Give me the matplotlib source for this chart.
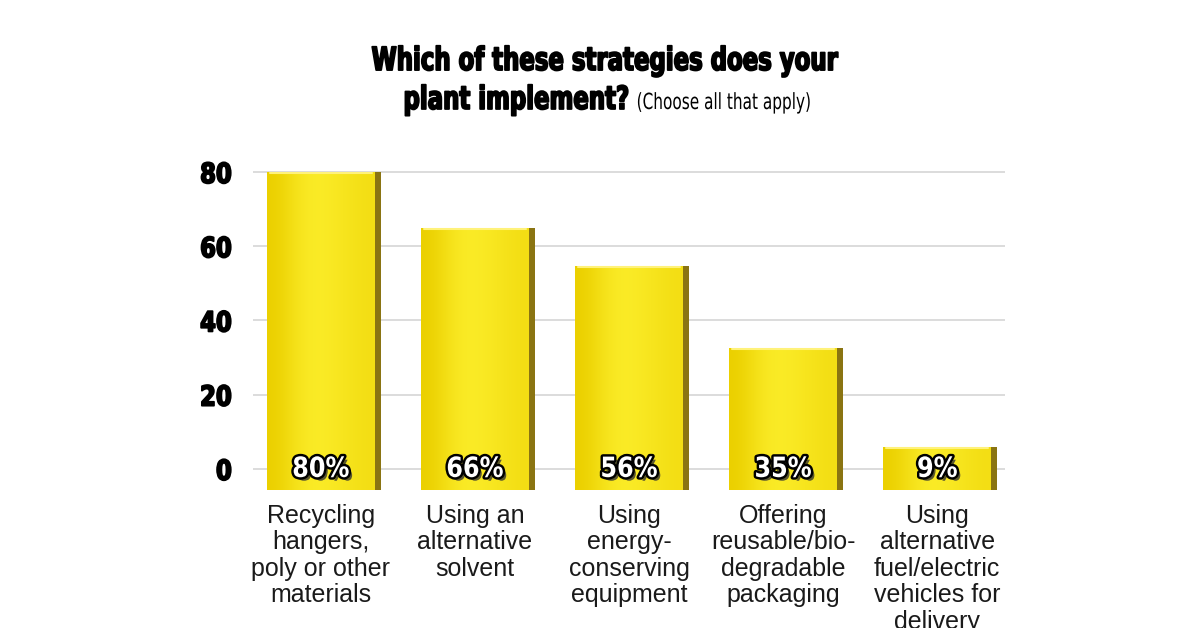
import matplotlib
matplotlib.use("Agg")
import matplotlib.pyplot as plt
import matplotlib.patheffects as pe
from matplotlib.transforms import Affine2D
from matplotlib.colors import LinearSegmentedColormap
import numpy as np

categories = [
    "Recycling\nhangers,\npoly or other\nmaterials",
    "Using an\nalternative\nsolvent",
    "Using\nenergy-\nconserving\nequipment",
    "Offering\nreusable/bio-\ndegradable\npackaging",
    "Using\nalternative\nfuel/electric\nvehicles for\ndelivery",
]
values = [80, 66, 56, 35, 9]
bar_tops = [80, 65, 54.7, 32.6, 5.9]
pct_labels = ["80%", "66%", "56%", "35%", "9%"]
yticks = [0, 20, 40, 60, 80]


class Squeeze(pe.AbstractPathEffect):
    """Horizontally condense text glyphs (emulates a condensed typeface)."""
    def __init__(self, sx, align="center", inner=None):
        super().__init__()
        self.sx = sx
        self.align = align
        self.inner = inner or [pe.Normal()]

    def draw_path(self, renderer, gc, tpath, affine, rgbFace=None):
        ext = tpath.get_extents()
        cx = {"center": (ext.x0 + ext.x1) / 2, "right": ext.x1, "left": ext.x0}[self.align]
        t = Affine2D().translate(-cx, 0).scale(self.sx, 1).translate(cx, 0) + affine
        for eff in self.inner:
            eff.draw_path(renderer, gc, tpath, t, rgbFace)


BOLD = "DejaVu Sans"
HEAVY = [pe.withStroke(linewidth=1.3, foreground="black")]

fig = plt.figure(figsize=(12, 6.28), dpi=100)
ax = fig.add_axes([0.2108, 0.1943, 0.6267, 0.5614])
ax.set_xlim(-0.44, 4.44)
ax.set_ylim(-10, 85)

x = np.arange(len(values))
w = 0.70
side = 0.05
base = -5.6

heights = [t - base for t in bar_tops]
ax.bar(x + w / 2 + side / 2 - 0.01, heights, width=side, bottom=base,
       color="#8a7412", zorder=2, linewidth=0)
bars = ax.bar(x, heights, width=w, bottom=base, color="#f6e10e",
              zorder=3, linewidth=0)

grad = np.array([[0.0, 0.6, 1.0, 0.9, 0.7, 0.5]])
cmap = LinearSegmentedColormap.from_list("yl", ["#ebd000", "#fbec28"])
for b in bars:
    x0, y0 = b.get_x(), b.get_y()
    im = ax.imshow(grad, extent=[x0, x0 + b.get_width(), y0, y0 + b.get_height()],
                   aspect="auto", cmap=cmap, zorder=3, interpolation="bicubic")
    im.set_clip_path(b)
    ax.plot([x0 + 0.02, x0 + b.get_width() - 0.02], [y0 + b.get_height() - 0.3] * 2,
            color="#fff27a", lw=1.5, zorder=4, solid_capstyle="round")

ax.set_yticks(yticks)
ax.set_yticklabels([str(t) for t in yticks], fontfamily=BOLD,
                   fontweight="bold", fontsize=20)
for lbl in ax.get_yticklabels():
    lbl.set_path_effects([Squeeze(0.82, "right", HEAVY)])
ax.tick_params(axis="y", length=0, pad=15)
ax.set_xticks([])
ax.yaxis.grid(True, color="#d6d6d6", lw=1.2, zorder=0)
ax.set_axisbelow(True)
for s in ax.spines.values():
    s.set_visible(False)

for xi, lab in zip(x, pct_labels):
    ax.text(xi, 0, lab, ha="center", va="center", color="white",
            fontfamily=BOLD, fontweight="bold", fontsize=20, zorder=6,
            path_effects=[Squeeze(0.86, "center", [
                pe.SimplePatchShadow(offset=(2.5, -2.5), shadow_rgbFace="#333333", alpha=0.8),
                pe.withStroke(linewidth=3.5, foreground="black"),
            ])])

for xi, lab in zip(x, categories):
    ax.text(xi, -9.4, lab, ha="center", va="top", fontsize=18,
            fontfamily=["Liberation Sans", "DejaVu Sans"], color="#1a1a1a",
            linespacing=1.13, clip_on=False)

fig.text(0.504, 0.902, "Which of these strategies does your", ha="center",
         va="center", fontfamily=BOLD, fontweight="bold", fontsize=23,
         path_effects=[Squeeze(0.715, "center", HEAVY)])
fig.text(0.525, 0.840, "plant implement?", ha="right", va="center",
         fontfamily=BOLD, fontweight="bold", fontsize=23,
         path_effects=[Squeeze(0.715, "right", HEAVY)])
fig.text(0.530, 0.836, "(Choose all that apply)", ha="left", va="center",
         fontfamily=BOLD, fontsize=16,
         path_effects=[Squeeze(0.69, "left")])

fig.savefig("out.png", dpi=100, facecolor="white")
